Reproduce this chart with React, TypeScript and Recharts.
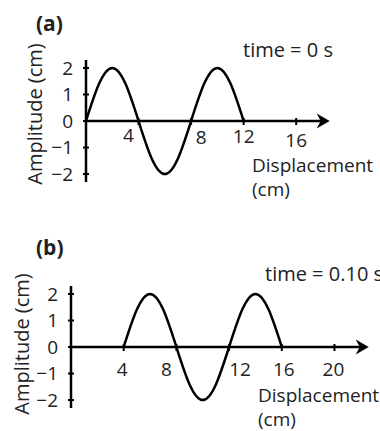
import React from "react";
import { LineChart, Line, XAxis, YAxis, ReferenceLine, ReferenceDot } from "recharts";

// wave at time = 0 s, every 1 cm
const displacementA = [0, 1, 2, 3, 4, 5, 6, 7, 8, 9, 10, 11, 12];
const amplitudeA = [0, 1.41, 2, 1.41, 0, -1.41, -2, -1.41, 0, 1.41, 2, 1.41, 0];

// wave at time = 0.10 s
const displacementB = [4, 5, 6, 7, 8, 9, 10, 11, 12, 13, 14, 15, 16];
const amplitudeB = [0, 1.41, 2, 1.41, 0, -1.41, -2, -1.41, 0, 1.41, 2, 1.41, 0];

const yTicks = [-2, -1, 0, 1, 2];
const xTicksA = [4, 8, 12, 16];
const xTicksB = [4, 8, 12, 16, 20];

const FONT = "'Open Sans', sans-serif";
const FS = 19;
const FS_TEXT = 20;

const fmt = (v: number) => (v < 0 ? `\u2212${Math.abs(v)}` : `${v}`);

const YTick = (props: any) => {
    const { x, y, payload } = props;
    // x is where the label ends: axis - 13
    return (
        <g>
            <line x1={x + 10} x2={x + 16} y1={y} y2={y} stroke="#000" strokeWidth={2} />
            <text x={x} y={y} dy="0.36em" textAnchor="end" fontFamily={FONT} fontSize={FS} fill="#222">
                {fmt(payload.value)}
            </text>
        </g>
    );
};

const AxisArrow = (props: any) => {
    const { x1, y1, x2 } = props;
    const y = y1;
    return (
        <g>
            <line x1={x1} y1={y} x2={x2 - 8} y2={y} stroke="#000" strokeWidth={2.5} />
            <polygon
                points={`${x2},${y} ${x2 - 13},${y - 7.5} ${x2 - 9},${y} ${x2 - 13},${y + 7.5}`}
                fill="#000"
            />
        </g>
    );
};

type PanelProps = {
    xs: number[];
    ys: number[];
    ticks: number[];
    shifts: Record<number, [number, number]>;
    height: number;
    margin: { top: number; right: number; bottom: number; left: number };
    yWidth: number;
    xMax: number;
    axisEnd: number;
    tag: string;
    tagPos: [number, number];
    time: string;
    timePos: [number, number];
    dispPos: [number, number];
    ampPos: [number, number];
};

const Panel = (p: PanelProps) => {
    const data = p.xs.map((d, i) => ({ d, amp: p.ys[i] }));
    return (
        <LineChart width={380} height={p.height} data={data} margin={p.margin}>
            <XAxis dataKey="d" type="number" domain={[0, p.xMax]} hide />
            <YAxis
                type="number"
                domain={[-2.3, 2.3]}
                ticks={yTicks}
                width={p.yWidth}
                axisLine={{ stroke: "#000", strokeWidth: 2.5 }}
                tickLine={false}
                tickSize={0}
                tickMargin={13}
                tick={<YTick />}
            />
            <ReferenceLine
                segment={[{ x: 0, y: 0 }, { x: p.axisEnd, y: 0 }]}
                shape={(s: any) => <AxisArrow {...s} />}
            />
            {p.ticks.map((t) => (
                <ReferenceDot
                    key={t}
                    x={t}
                    y={0}
                    r={0}
                    shape={(s: any) => (
                        <g>
                            <line x1={s.cx} x2={s.cx} y1={s.cy - 3} y2={s.cy + 4} stroke="#000" strokeWidth={2} />
                            <text
                                x={s.cx + p.shifts[t][0]}
                                y={s.cy + p.shifts[t][1]}
                                dy="0.36em"
                                textAnchor="middle"
                                fontFamily={FONT}
                                fontSize={FS}
                                fill="#222"
                            >
                                {t}
                            </text>
                        </g>
                    )}
                />
            ))}
            <Line
                dataKey="amp"
                type="natural"
                stroke="#000"
                strokeWidth={2.5}
                dot={false}
                isAnimationActive={false}
            />
            <text x={p.tagPos[0]} y={p.tagPos[1]} dy="0.36em" fontFamily={FONT} fontSize={21} fontWeight="bold" fill="#222">
                {p.tag}
            </text>
            <text x={p.timePos[0]} y={p.timePos[1]} fontFamily={FONT} fontSize={FS_TEXT} fill="#222">
                {p.time}
            </text>
            <text x={p.dispPos[0]} y={p.dispPos[1]} fontFamily={FONT} fontSize={FS} fill="#222">
                Displacement
            </text>
            <text x={p.dispPos[0]} y={p.dispPos[1] + 24} fontFamily={FONT} fontSize={FS} fill="#222">
                (cm)
            </text>
            <text
                transform={`translate(${p.ampPos[0]},${p.ampPos[1]}) rotate(-90)`}
                textAnchor="middle"
                fontFamily={FONT}
                fontSize={FS_TEXT}
                fill="#222"
            >
                Amplitude (cm)
            </text>
        </LineChart>
    );
};

export default function App() {
    return (
        <div style={{ position: "absolute", left: 0, top: 0, width: 380, height: 431, background: "#fff" }}>
            <Panel
                xs={displacementA}
                ys={amplitudeA}
                ticks={xTicksA}
                shifts={{ 4: [-10, 14], 8: [10, 16.5], 12: [0, 15], 16: [0, 19] }}
                height={215}
                margin={{ top: 60, right: 5, bottom: 33, left: 0 }}
                yWidth={86}
                xMax={22}
                axisEnd={18.55}
                tag="(a)"
                tagPos={[36, 23]}
                time="time = 0 s"
                timePos={[243, 56.5]}
                dispPos={[252, 172]}
                ampPos={[42, 114]}
            />
            <Panel
                xs={displacementB}
                ys={amplitudeB}
                ticks={xTicksB}
                shifts={{ 4: [-1.5, 22], 8: [-10, 22], 12: [11, 22], 16: [2, 22], 20: [-1, 22] }}
                height={216}
                margin={{ top: 71, right: 6, bottom: 23, left: 0 }}
                yWidth={71}
                xMax={23}
                axisEnd={22.6}
                tag="(b)"
                tagPos={[36, 32]}
                time="time = 0.10 s"
                timePos={[265, 66]}
                dispPos={[258, 187]}
                ampPos={[29, 129]}
            />
        </div>
    );
}
